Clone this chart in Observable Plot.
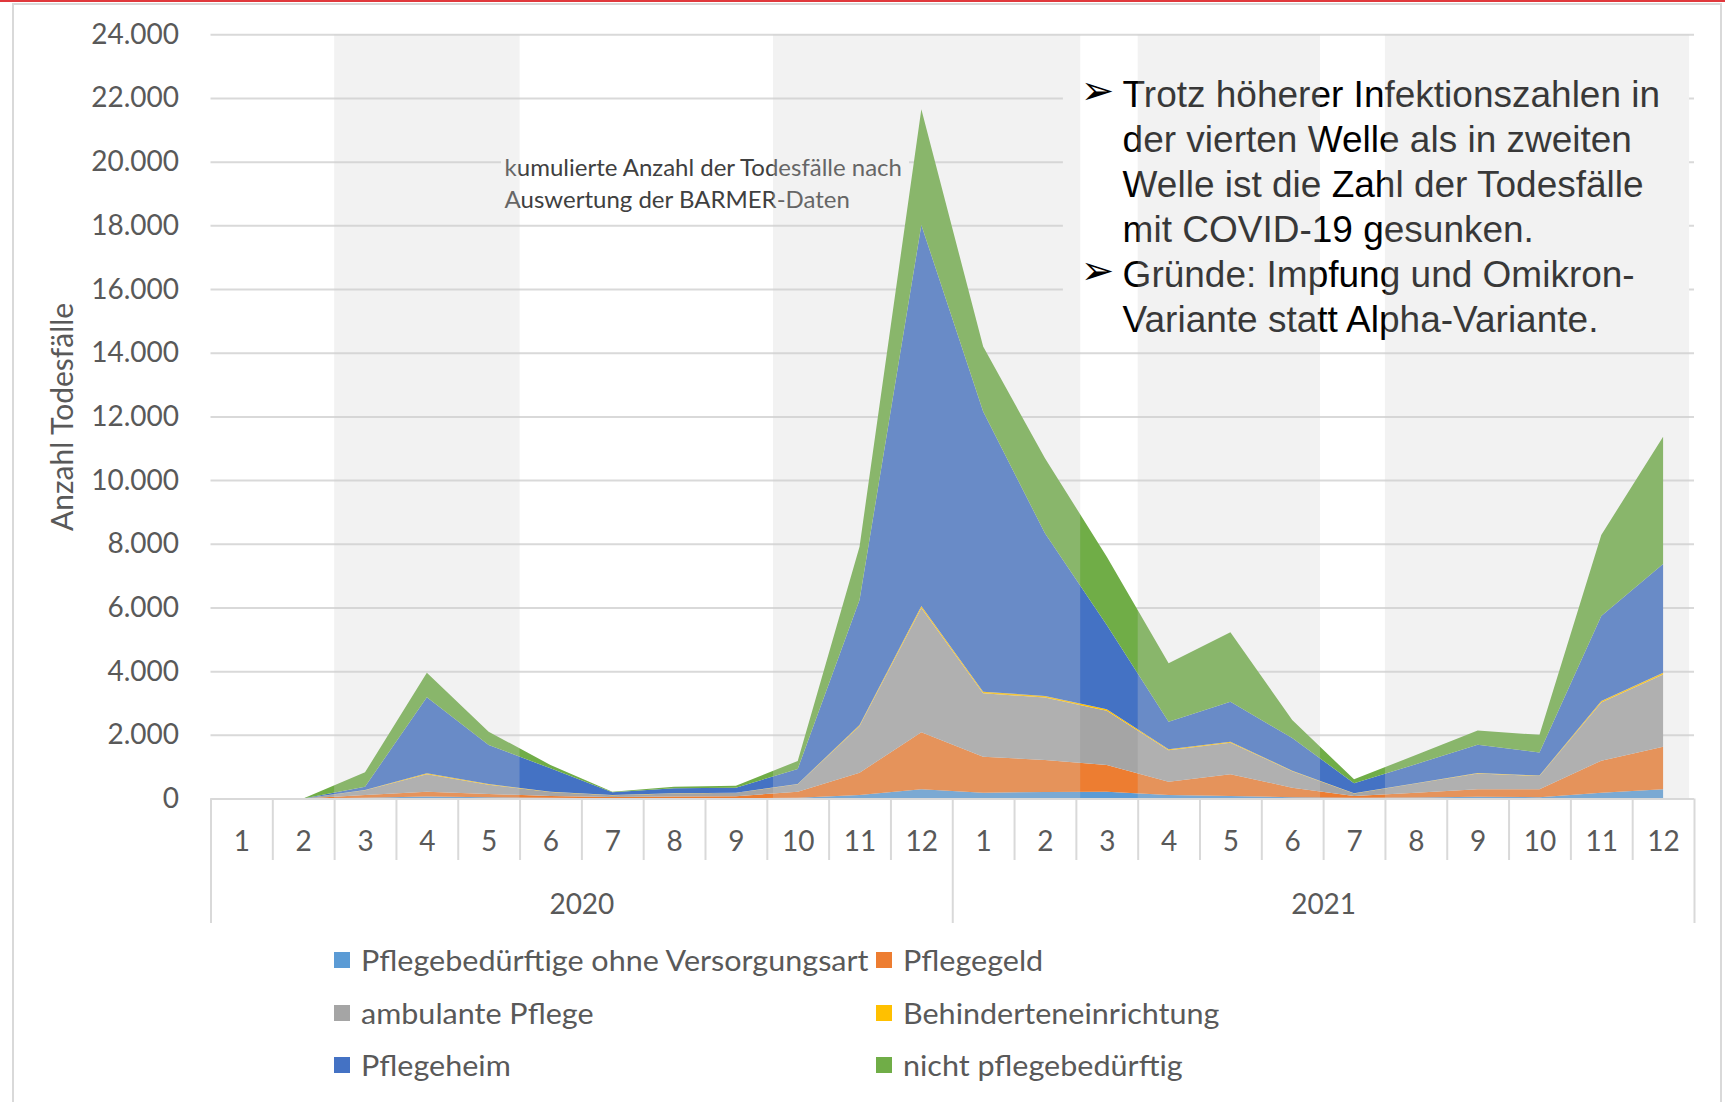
<!DOCTYPE html>
<html>
<head>
<meta charset="utf-8">
<script src="https://cdn.jsdelivr.net/npm/d3@7"></script>
<script src="https://cdn.jsdelivr.net/npm/@observablehq/plot@0.6"></script>
<style>
  body { margin: 0; background: #fff; }
  #wrap { position: relative; width: 1725px; height: 1102px; overflow: hidden; font-family: Lato, "Open Sans", sans-serif; }
  #redline { position: absolute; left: 0; top: 0; width: 1725px; height: 2px; background: #e0383c; }
  #frame { position: absolute; left: 12px; top: 3px; width: 1710px; height: 1200px; border: 2px solid #d9d9d9; box-sizing: border-box; }
  #chart { position: absolute; left: 0; top: 0; }
  #legend { position: absolute; left: 334px; top: 934px; display: grid; grid-template-columns: 542px auto; grid-auto-rows: 52.5px; }
  .item { display: flex; align-items: center; font-size: 28px; color: #595959; white-space: nowrap; }
  .item .lbl { display: inline-block; transform: scaleX(1.09); transform-origin: left center; }
  .sw { width: 16px; height: 16px; margin-right: 11px; flex: none; }
</style>
</head>
<body>
<div id="wrap">
  <div id="redline"></div>
  <div id="frame"></div>
  <div id="chart"></div>
  <div id="legend"></div>
</div>
<script>
// ---- data ----
const monthLabels = ["1","2","3","4","5","6","7","8","9","10","11","12","1","2","3","4","5","6","7","8","9","10","11","12"];
const yearLabels = ["2020", "2021"];
const seriesNames = ["Pflegebedürftige ohne Versorgungsart", "Pflegegeld", "ambulante Pflege", "Behinderteneinrichtung", "Pflegeheim", "nicht pflegebedürftig"];
const seriesColors = ["#5B9BD5", "#ED7D31", "#A5A5A5", "#FFC000", "#4472C4", "#70AD47"];

const ohneVersorgungsart     = [0, 0, 20, 60, 40, 20, 10, 10, 15, 20, 110, 289,   183, 204, 215, 110, 79, 40, 20, 30, 56, 40, 183, 292];
const pflegegeld             = [0, 0, 90, 155, 101, 60, 40, 50, 55, 195, 701, 1790, 1131, 1005, 837, 418, 681, 300, 60, 153, 236, 252, 1005, 1336];
const ambulantePflege        = [0, 0, 152, 546, 294, 125, 55, 98, 108, 230, 1467, 3907, 1991, 1960, 1704, 991, 994, 519, 78, 285, 490, 415, 1830, 2264];
const behinderteneinrichtung = [0, 0, 5, 30, 20, 10, 5, 5, 5, 10, 30, 60,        50, 50, 45, 25, 30, 15, 5, 10, 15, 15, 45, 60];
const pflegeheim             = [0, 0, 104, 2388, 1225, 733, 84, 157, 157, 472, 3926, 11966, 8795, 5110, 2648, 869, 1256, 1026, 315, 600, 889, 722, 2669, 3413];
const nichtPflegebeduerftig  = [0, 0, 452, 773, 419, 104, 21, 51, 63, 251, 1674, 3634, 2045, 2356, 2146, 1833, 2179, 565, 125, 288, 449, 556, 2544, 3999];

const yTicks = [0, 2000, 4000, 6000, 8000, 10000, 12000, 14000, 16000, 18000, 20000, 22000, 24000];
// shaded wave periods, in month units from Jan 2020 (0) to Dec 2021 end (24)
const waveBands = [{start: 2, end: 5}, {start: 9.1, end: 14.07}, {start: 15, end: 17.95}, {start: 19, end: 23.92}];

const annotation = "kumulierte Anzahl der Todesfälle nach\nAuswertung der BARMER-Daten";
const bullets = [
  "Trotz höherer Infektionszahlen in\nder vierten Welle als in zweiten\nWelle ist die Zahl der Todesfälle\nmit COVID-19 gesunken.",
  "Gründe: Impfung und Omikron-\nVariante statt Alpha-Variante."
];

// ---- build ----
const seriesValues = [ohneVersorgungsart, pflegegeld, ambulantePflege, behinderteneinrichtung, pflegeheim, nichtPflegebeduerftig];
const table = [];
seriesNames.forEach((s, si) => seriesValues[si].forEach((v, i) => table.push({series: s, x: i + 0.5, value: v})));

const fmt = d3.formatLocale({decimal: ",", thousands: ".", grouping: [3], currency: ["", " €"]}).format(",d");

const W = 1725, H = 940, mTop = 34.3, mBottom = 141.5, mLeft = 210.5, mRight = 31;
const plotBottom = H - mBottom;
const unitsPerPx = 24000 / (plotBottom - mTop);
const boundaries = d3.range(0, 25).map(k => ({k, long: k % 12 === 0}));
const bulletY = [22750, 17090];

const chart = Plot.plot({
  width: W, height: H,
  marginTop: mTop, marginBottom: mBottom, marginLeft: mLeft, marginRight: mRight,
  x: {domain: [0, 24], axis: null},
  y: {domain: [0, 24000], axis: null},
  color: {domain: seriesNames, range: seriesColors},
  style: {fontFamily: "Lato, 'Open Sans', sans-serif", background: "transparent", overflow: "visible"},
  marks: [
    Plot.ruleY(yTicks, {stroke: "#d9d9d9", strokeWidth: 2}),
    // opaque backgrounds of the two text boxes
    Plot.rect([{x1: 4.70, x2: 11.30, y1: 18400, y2: 20600}], {x1: "x1", x2: "x2", y1: "y1", y2: "y2", fill: "white"}),
    Plot.rect([{x1: 13.79, x2: 23.92, y1: 14250, y2: 23660}], {x1: "x1", x2: "x2", y1: "y1", y2: "y2", fill: "white"}),
    Plot.areaY(table, {x: "x", y: "value", fill: "series", order: seriesNames, curve: "linear"}),
    Plot.ruleY([0], {stroke: "#d9d9d9", strokeWidth: 2}),
    Plot.ruleX(boundaries, {x: "k", y1: 0, y2: d => -(d.long ? 124.5 : 61.5) * unitsPerPx, stroke: "#d9d9d9", strokeWidth: 2}),
    Plot.text(yTicks, {y: d => d, frameAnchor: "left", dx: -32, textAnchor: "end", text: d => fmt(d), fontSize: 28, fill: "#595959"}),
    Plot.text(monthLabels, {x: (d, i) => i + 0.5, frameAnchor: "bottom", dy: 51.5, text: d => d, fontSize: 28, fill: "#595959"}),
    Plot.text(yearLabels, {x: (d, i) => i * 12 + 6, frameAnchor: "bottom", dy: 114.5, text: d => d, fontSize: 28, fill: "#595959"}),
    Plot.text(["Anzahl Todesfälle"], {frameAnchor: "left", dx: -138, rotate: -90, text: d => d, textAnchor: "middle", lineAnchor: "bottom", fontSize: 30, fill: "#595959"}),
    Plot.text([annotation], {x: 4.75, y: 20270, text: d => d, textAnchor: "start", lineAnchor: "top", lineHeight: 1.33, fontSize: 24, fill: "#404040"}),
    Plot.text(bullets, {x: 14.748, y: (d, i) => bulletY[i], text: d => d, textAnchor: "start", lineAnchor: "top", lineHeight: 1.219, fontSize: 37, fill: "#000", fontFamily: "'Liberation Sans', Arial, sans-serif"}),
    Plot.text(bullets, {x: 14.34, y: (d, i) => bulletY[i], text: () => "➢", textAnchor: "middle", lineAnchor: "top", fontSize: 40, fill: "#000", fontFamily: "'DejaVu Sans', sans-serif", dy: 1}),
    // semi-transparent wave bands on top
    Plot.rect(waveBands, {x1: "start", x2: "end", y1: 0, y2: 24000, fill: "#cfcfcf", fillOpacity: 0.27})
  ]
});
document.getElementById("chart").appendChild(chart);

// legend (row-major as in the reference)
const legend = document.getElementById("legend");
seriesNames.forEach((s, i) => {
  const it = document.createElement("div");
  it.className = "item";
  it.innerHTML = `<span class="sw" style="background:${seriesColors[i]}"></span><span class="lbl">${s}</span>`;
  legend.appendChild(it);
});
</script>
</body>
</html>
